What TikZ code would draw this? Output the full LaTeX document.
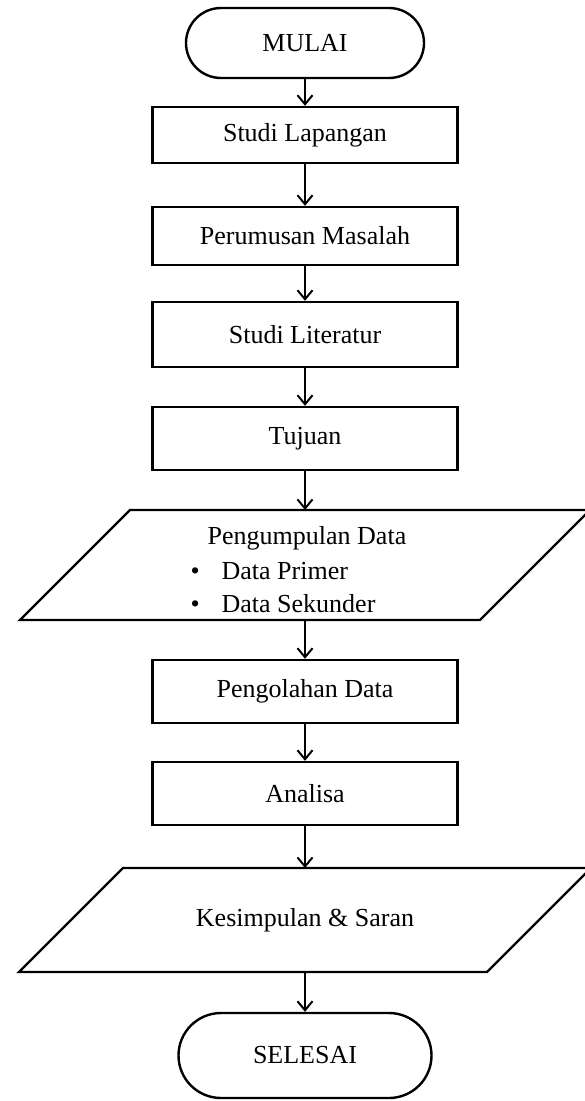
\documentclass[tikz,border=0pt]{standalone}
\usepackage{fontspec}
\setmainfont{Liberation Serif}
\usetikzlibrary{shapes.misc,arrows.meta,calc}

\begin{document}
\begin{tikzpicture}[x=0.5pt,y=-0.5pt,
    every node/.style={font=\fontsize{13}{16.5}\selectfont},
    terminal/.style={draw,line width=1.2pt,rounded rectangle,minimum width=119pt,minimum height=35pt,inner sep=0pt},
    process/.style={draw,line width=1.2pt,rectangle,minimum width=152.5pt,inner sep=0pt},
    inout/.style={minimum width=230pt,minimum height=55pt,inner sep=0pt,outer sep=0pt},
    alur/.style={-{Straight Barb[length=4.5pt,width=7.5pt]},line width=1pt}]
            \useasboundingbox (0,0) rectangle (584,1101);

            % Start
            \node[terminal] (mulai) at (305,43) {MULAI};

            % Steps
            \node[process,minimum height=28pt] (lapangan) at (305,135) {Studi Lapangan};
            \node[process,minimum height=29pt] (masalah) at (305,236) {Perumusan Masalah};
            \node[process,minimum height=32.5pt] (literatur) at (305,334.5) {Studi Literatur};
            \node[process,minimum height=31.5pt] (tujuan) at (305,438.5) {Tujuan};

            % Data collection
            \node[inout] (kumpul) at (305,565) {};
            \draw[line width=1.2pt] ($(kumpul.north west)+(55,0)$) -- ($(kumpul.north east)+(55,0)$)
                -- ($(kumpul.south east)+(-55,0)$) -- ($(kumpul.south west)+(-55,0)$) -- cycle;
            \node (kumpulteks) at (307,572) {\begin{tabular}{@{}c@{}}Pengumpulan Data\\[1pt]
                \hspace*{-24pt}\begin{tabular}{@{}l@{}}\textbullet\hspace{11pt}Data Primer\\
                \textbullet\hspace{11pt}Data Sekunder\end{tabular}\end{tabular}};

            \node[process,minimum height=31.5pt] (olah) at (305,691.5) {Pengolahan Data};
            \node[process,minimum height=31.5pt] (analisa) at (305,793.5) {Analisa};

            % Conclusion
            \node[inout,minimum width=234pt,minimum height=52pt] (simpul) at (305,920) {Kesimpulan \& Saran};
            \draw[line width=1.2pt] ($(simpul.north west)+(52,0)$) -- ($(simpul.north east)+(52,0)$)
                -- ($(simpul.south east)+(-52,0)$) -- ($(simpul.south west)+(-52,0)$) -- cycle;

            % End
            \node[terminal,minimum width=126.5pt,minimum height=42.5pt] (selesai) at (305,1055.5) {SELESAI};

            % Arrows
            \draw[alur] (mulai.south) -- (lapangan.north);
            \draw[alur] (lapangan.south) -- (masalah.north);
            \draw[alur] (masalah.south) -- (literatur.north);
            \draw[alur] (literatur.south) -- (tujuan.north);
            \draw[alur] (tujuan.south) -- (kumpul.north);
            \draw[alur] (kumpul.south) -- (olah.north);
            \draw[alur] (olah.south) -- (analisa.north);
            \draw[alur] (analisa.south) -- (simpul.north);
            \draw[alur] (simpul.south) -- (selesai.north);
\end{tikzpicture}
\end{document}
